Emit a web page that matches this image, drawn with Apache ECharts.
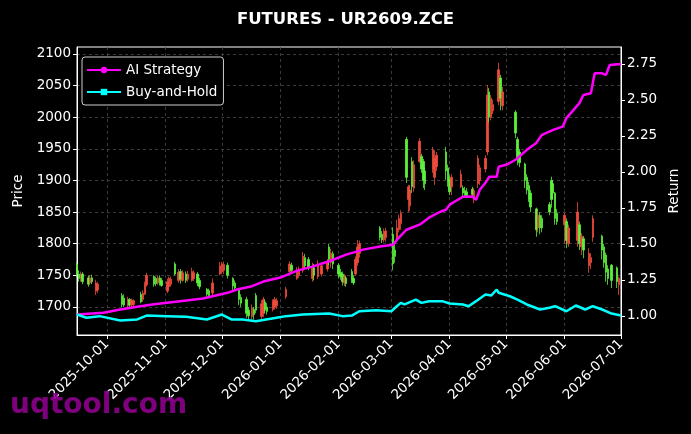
<!DOCTYPE html>
<html><head><meta charset="utf-8">
<script src="https://cdn.jsdelivr.net/npm/echarts@6/dist/echarts.min.js"></script>
<style>html,body{margin:0;padding:0;background:#000;}#c{width:691px;height:434px;}</style>
</head><body><div id="c"></div>
<script>
// ---- data ----
const monthTicks = ['2025-10-01','2025-11-01','2025-12-01','2026-01-01','2026-02-01','2026-03-01','2026-04-01','2026-05-01','2026-06-01','2026-07-01'];
const priceTicks = [1700,1750,1800,1850,1900,1950,2000,2050,2100];
const returnTicks = [1.00,1.25,1.50,1.75,2.00,2.25,2.50,2.75];

// [date, open, close, low, high]
const priceBars = [
['2025-09-15',1768,1752,1747,1771],['2025-09-16',1752,1745,1740,1758],['2025-09-17',1745,1752,1740,1756],
['2025-09-18',1752,1740,1736,1755],['2025-09-21',1746,1736,1732,1750],['2025-09-22',1738,1746,1735,1750],
['2025-09-23',1746,1740,1736,1751],['2025-09-25',1725,1738,1719,1743],['2025-09-26',1727,1736,1722,1740],
['2025-10-09',1718,1704,1700,1722],['2025-10-10',1714,1703,1700,1720],['2025-10-12',1702,1712,1698,1716],
['2025-10-13',1712,1703,1699,1714],['2025-10-14',1703,1711,1700,1713],['2025-10-15',1704,1710,1700,1712],
['2025-10-19',1720,1708,1706,1724],['2025-10-20',1712,1722,1708,1726],['2025-10-21',1720,1736,1719,1740],
['2025-10-22',1735,1750,1732,1754],['2025-10-26',1748,1736,1732,1750],['2025-10-27',1745,1737,1733,1748],
['2025-10-28',1738,1746,1735,1749],['2025-10-29',1746,1737,1734,1750],['2025-10-30',1742,1734,1732,1746],
['2025-11-02',1725,1740,1722,1745],['2025-11-03',1732,1745,1728,1748],['2025-11-04',1736,1744,1732,1748],
['2025-11-06',1768,1752,1750,1771],['2025-11-08',1742,1755,1738,1760],['2025-11-09',1756,1744,1737,1760],
['2025-11-10',1742,1754,1740,1758],['2025-11-12',1752,1742,1738,1756],['2025-11-13',1744,1752,1740,1757],
['2025-11-15',1742,1756,1740,1762],['2025-11-16',1745,1754,1741,1758],['2025-11-18',1752,1738,1733,1755],
['2025-11-19',1742,1732,1728,1746],['2025-11-23',1728,1720,1716,1730],['2025-11-24',1726,1718,1714,1729],
['2025-11-26',1722,1738,1718,1745],['2025-11-30',1752,1765,1750,1771],['2025-12-01',1756,1768,1752,1771],
['2025-12-02',1758,1767,1752,1772],['2025-12-04',1766,1750,1745,1770],['2025-12-07',1745,1733,1727,1747],
['2025-12-08',1738,1730,1726,1742],['2025-12-10',1727,1712,1703,1729],['2025-12-11',1715,1706,1700,1720],
['2025-12-14',1712,1690,1683,1716],['2025-12-15',1695,1686,1680,1700],['2025-12-17',1685,1698,1680,1704],
['2025-12-18',1696,1688,1680,1700],['2025-12-19',1718,1695,1690,1722],['2025-12-22',1685,1705,1678,1711],
['2025-12-23',1690,1712,1684,1716],['2025-12-24',1708,1695,1690,1712],['2025-12-25',1700,1693,1688,1706],
['2025-12-28',1696,1708,1693,1712],['2025-12-29',1700,1712,1696,1716],['2025-12-30',1702,1710,1697,1714],
['2026-01-04',1716,1728,1713,1732],['2026-01-06',1756,1768,1753,1772],['2026-01-07',1766,1758,1754,1770],
['2026-01-10',1745,1758,1743,1763],['2026-01-11',1750,1760,1746,1764],['2026-01-13',1758,1780,1754,1787],
['2026-01-14',1778,1765,1760,1784],['2026-01-16',1775,1762,1758,1779],['2026-01-18',1745,1762,1740,1770],
['2026-01-19',1762,1750,1742,1768],['2026-01-21',1748,1766,1744,1774],['2026-01-23',1752,1765,1748,1770],
['2026-01-26',1760,1772,1756,1776],['2026-01-27',1795,1775,1766,1800],['2026-01-28',1770,1785,1762,1792],
['2026-01-29',1784,1768,1760,1788],['2026-02-01',1766,1752,1745,1769],['2026-02-02',1755,1748,1743,1760],
['2026-02-03',1752,1740,1734,1756],['2026-02-04',1738,1748,1733,1752],['2026-02-05',1746,1737,1732,1750],
['2026-02-08',1756,1742,1738,1760],['2026-02-09',1745,1738,1735,1750],['2026-02-10',1752,1775,1750,1780],
['2026-02-11',1770,1795,1765,1806],['2026-02-12',1785,1800,1778,1805],['2026-02-23',1825,1810,1805,1828],
['2026-02-24',1815,1806,1801,1820],['2026-02-25',1806,1818,1802,1824],['2026-02-26',1810,1820,1803,1825],
['2026-03-02',1815,1768,1758,1826],['2026-03-03',1790,1780,1770,1800],['2026-03-04',1808,1825,1806,1838],
['2026-03-05',1822,1840,1818,1846],['2026-03-06',1832,1848,1822,1853],['2026-03-09',1965,1905,1896,1969],
['2026-03-10',1870,1890,1850,1893],['2026-03-11',1860,1885,1852,1893],['2026-03-12',1930,1890,1880,1937],
['2026-03-13',1888,1925,1882,1932],['2026-03-16',1930,1962,1928,1967],['2026-03-17',1938,1918,1912,1942],
['2026-03-18',1930,1900,1888,1934],['2026-03-19',1915,1895,1885,1920],['2026-03-23',1918,1948,1912,1953],
['2026-03-24',1905,1935,1893,1948],['2026-03-25',1922,1940,1915,1945],['2026-03-30',1945,1915,1901,1953],
['2026-03-31',1920,1898,1890,1925],['2026-04-01',1902,1882,1877,1908],['2026-04-02',1890,1905,1877,1910],
['2026-04-07',1890,1910,1888,1917],['2026-04-08',1888,1880,1874,1892],['2026-04-09',1884,1878,1874,1890],
['2026-04-10',1882,1876,1872,1888],['2026-04-13',1886,1878,1874,1890],['2026-04-14',1870,1884,1864,1888],
['2026-04-16',1895,1935,1888,1940],['2026-04-17',1900,1920,1893,1925],['2026-04-20',1918,1935,1913,1940],
['2026-04-21',1945,2035,1940,2051],['2026-04-22',2040,2000,1992,2046],['2026-04-23',2000,2030,1995,2035],
['2026-04-24',2010,2020,2005,2028],['2026-04-27',2025,2075,2019,2086],['2026-04-28',2062,2030,2011,2067],
['2026-04-29',2018,2040,2011,2048],['2026-05-06',2008,1975,1967,2011],['2026-05-07',1965,1935,1924,1969],
['2026-05-08',1945,1928,1921,1950],['2026-05-11',1926,1900,1888,1928],['2026-05-12',1905,1885,1878,1910],
['2026-05-13',1892,1870,1866,1898],['2026-05-14',1880,1858,1850,1885],['2026-05-17',1855,1822,1811,1857],
['2026-05-18',1825,1845,1818,1852],['2026-05-19',1845,1825,1815,1850],['2026-05-20',1840,1825,1818,1845],
['2026-05-24',1862,1850,1845,1866],['2026-05-25',1900,1870,1857,1906],['2026-05-26',1895,1880,1870,1900],
['2026-05-27',1880,1840,1830,1882],['2026-05-28',1848,1835,1830,1855],['2026-06-01',1830,1845,1800,1849],
['2026-06-02',1835,1805,1793,1840],['2026-06-03',1800,1825,1795,1830],['2026-06-08',1805,1850,1795,1866],
['2026-06-09',1830,1800,1790,1835],['2026-06-10',1795,1812,1782,1817],['2026-06-11',1808,1790,1777,1812],
['2026-06-14',1765,1785,1754,1793],['2026-06-15',1770,1778,1760,1785],['2026-06-16',1810,1840,1803,1845],
['2026-06-21',1812,1790,1775,1814],['2026-06-22',1795,1770,1762,1800],['2026-06-23',1782,1755,1740,1786],
['2026-06-24',1760,1745,1735,1766],['2026-06-26',1766,1742,1730,1768],['2026-06-29',1762,1740,1730,1764],
['2026-06-30',1735,1745,1719,1748]
];

const aiDates = ['2025-09-15','2025-09-29','2025-10-08','2025-10-17','2025-10-25','2025-11-03','2025-11-12','2025-11-21','2025-11-26','2025-12-04','2025-12-09','2025-12-17','2025-12-23','2026-01-01','2026-01-10','2026-01-18','2026-01-27','2026-02-05','2026-02-14','2026-02-23','2026-03-02','2026-03-04','2026-03-09','2026-03-16','2026-03-21','2026-03-27','2026-03-30','2026-04-01','2026-04-08','2026-04-13','2026-04-15','2026-04-17','2026-04-20','2026-04-22','2026-04-26','2026-04-27','2026-05-01','2026-05-06','2026-05-12','2026-05-17','2026-05-20','2026-05-26','2026-05-31','2026-06-02','2026-06-05','2026-06-09','2026-06-11','2026-06-15','2026-06-17','2026-06-18','2026-06-21','2026-06-23','2026-06-25','2026-07-01'];
const aiReturn = [1.010,1.022,1.045,1.064,1.080,1.094,1.107,1.121,1.137,1.161,1.184,1.207,1.239,1.267,1.315,1.343,1.380,1.426,1.461,1.482,1.495,1.530,1.599,1.634,1.683,1.724,1.738,1.773,1.828,1.830,1.807,1.877,1.925,1.967,1.967,2.036,2.050,2.085,2.154,2.202,2.258,2.292,2.315,2.374,2.419,2.480,2.535,2.547,2.685,2.696,2.685,2.674,2.743,2.750];

const bhDates = ['2025-09-15','2025-09-20','2025-09-27','2025-10-08','2025-10-17','2025-10-22','2025-11-02','2025-11-12','2025-11-23','2025-12-01','2025-12-06','2025-12-12','2025-12-19','2025-12-30','2026-01-04','2026-01-13','2026-01-27','2026-02-03','2026-02-08','2026-02-12','2026-02-21','2026-03-01','2026-03-03','2026-03-06','2026-03-08','2026-03-14','2026-03-17','2026-03-21','2026-03-28','2026-04-01','2026-04-08','2026-04-11','2026-04-15','2026-04-20','2026-04-23','2026-04-26','2026-04-27','2026-05-03','2026-05-07','2026-05-12','2026-05-19','2026-05-24','2026-05-27','2026-06-02','2026-06-07','2026-06-12','2026-06-16','2026-06-21','2026-06-26','2026-07-01'];
const bhReturn = [1.010,0.988,0.999,0.969,0.976,1.003,0.999,0.994,0.976,1.010,0.976,0.976,0.964,0.988,0.999,1.010,1.017,0.999,1.003,1.033,1.040,1.033,1.057,1.091,1.080,1.114,1.091,1.103,1.103,1.087,1.080,1.068,1.103,1.149,1.142,1.184,1.161,1.137,1.114,1.080,1.045,1.057,1.068,1.033,1.073,1.045,1.068,1.045,1.017,1.003];

// ---- chart ----
const UP = '#ef4b3b', DOWN = '#5cf13c';
const FONT = 'DejaVu Sans';
const FS = 13.5;
const ts = s => new Date(s + 'T00:00:00Z').getTime();
const pad = n => String(n).padStart(2, '0');
const fmtDate = v => { const d = new Date(v); return d.getUTCFullYear() + '-' + pad(d.getUTCMonth() + 1) + '-' + pad(d.getUTCDate()); };

const chart = echarts.init(document.getElementById('c'), null, {renderer: 'canvas'});
chart.setOption({
  backgroundColor: '#000',
  animation: false,
  textStyle: {fontFamily: FONT},
  title: {text: 'FUTURES - UR2609.ZCE', left: 'center', top: 6,
    textStyle: {color: '#fff', fontSize: 16.5, fontWeight: 'bold', fontFamily: FONT}},
  grid: {left: 77, right: 70, top: 47, bottom: 99, show: true, borderColor: '#fff', borderWidth: 1, backgroundColor: 'transparent'},
  legend: {
    data: ['AI Strategy', 'Buy-and-Hold'], orient: 'vertical', left: 82, top: 57,
    backgroundColor: '#000', borderColor: '#cfcfcf', borderWidth: 1, borderRadius: 3,
    padding: [6, 6, 6, 4], itemGap: 8, itemWidth: 34, itemHeight: 8,
    textStyle: {color: '#fff', fontSize: FS, fontFamily: FONT}
  },
  xAxis: {
    type: 'value', min: ts('2025-09-15'), max: ts('2026-07-01'),
    axisLine: {lineStyle: {color: '#fff'}},
    axisTick: {show: true, length: 4, lineStyle: {color: '#fff'}, customValues: monthTicks.map(ts)},
    axisLabel: {color: '#fff', fontSize: FS, rotate: 45, fontFamily: FONT, margin: 7,
      customValues: monthTicks.map(ts), formatter: v => fmtDate(v), hideOverlap: false},
    splitLine: {show: true, lineStyle: {color: '#4a4a4a', type: [3, 3], width: 0.8}}
  },
  yAxis: [
    {type: 'value', min: 1655.7, max: 2111, position: 'left', name: 'Price', nameLocation: 'middle', nameGap: 52,
      nameTextStyle: {color: '#fff', fontSize: FS, fontFamily: FONT},
      axisLine: {show: true, lineStyle: {color: '#fff'}},
      axisTick: {show: true, length: 4, lineStyle: {color: '#fff'}, customValues: priceTicks},
      axisLabel: {color: '#fff', fontSize: FS, fontFamily: FONT, margin: 6, customValues: priceTicks, formatter: v => String(v)},
      splitLine: {show: true, lineStyle: {color: '#4a4a4a', type: [3, 3], width: 0.8}}},
    {type: 'value', min: 0.868, max: 2.868, position: 'right', name: 'Return', nameLocation: 'middle', nameGap: 46,
      nameTextStyle: {color: '#fff', fontSize: FS, fontFamily: FONT},
      axisLine: {show: true, lineStyle: {color: '#fff'}},
      axisTick: {show: true, length: 4, lineStyle: {color: '#fff'}, customValues: returnTicks},
      axisLabel: {color: '#fff', fontSize: FS, fontFamily: FONT, margin: 6, customValues: returnTicks, formatter: v => v.toFixed(2)},
      splitLine: {show: false}}
  ],
  graphic: [{type: 'text', left: 10, top: 392, z: 100,
    style: {text: 'uqtool.com', fill: 'rgba(140,0,140,0.9)', font: 'bold 28px "DejaVu Sans"'}}],
  series: [
    {type: 'candlestick', name: 'Price', yAxisIndex: 0, barWidth: 2,
      data: priceBars.map(b => [ts(b[0]), b[1], b[2], b[3], b[4]]),
      encode: {x: 0, y: [1, 2, 3, 4]},
      itemStyle: {color: UP, color0: DOWN, borderColor: UP, borderColor0: DOWN, borderWidth: 0.8}},
    {type: 'line', name: 'AI Strategy', yAxisIndex: 1, data: aiDates.map((d, i) => [ts(d), aiReturn[i]]),
      showSymbol: false, symbol: 'circle', symbolSize: 5, color: '#ff00ff',
      lineStyle: {color: '#ff00ff', width: 2.5}, z: 5},
    {type: 'line', name: 'Buy-and-Hold', yAxisIndex: 1, data: bhDates.map((d, i) => [ts(d), bhReturn[i]]),
      showSymbol: false, symbol: 'rect', symbolSize: 5, color: '#00ffff',
      lineStyle: {color: '#00ffff', width: 2.5}, z: 5}
  ]
});
</script></body></html>
